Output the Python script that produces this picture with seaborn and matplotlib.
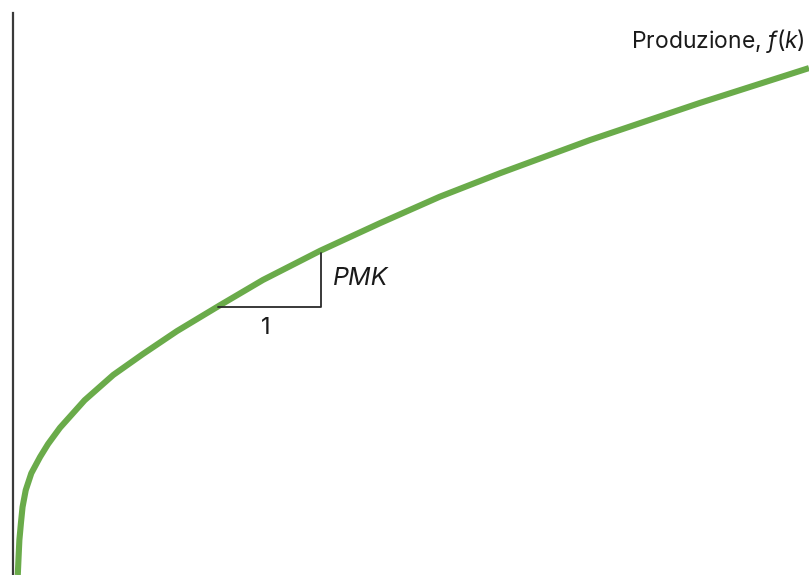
import matplotlib
matplotlib.use("Agg")
import matplotlib.pyplot as plt
import seaborn as sns
import pandas as pd

# capitale per lavoratore (k) e produzione f(k)
k_vals = [0.06, 0.07, 0.08, 0.10, 0.12, 0.16, 0.23, 0.34, 0.44, 0.59, 0.90,
          1.26, 1.63, 2.06, 2.60, 3.14, 3.86, 4.61, 5.36, 6.12, 7.25, 8.63, 10.0]
f_vals = [0.00, 0.32, 0.62, 0.93, 1.21, 1.51, 1.81, 2.10, 2.33, 2.62, 3.11,
          3.56, 3.93, 4.34, 4.80, 5.25, 5.77, 6.26, 6.73, 7.15, 7.74, 8.40, 9.02]

# triangolo della pendenza (PMK)
tri_k = [2.58, 3.87, 3.87]
tri_f = [4.77, 4.77, 5.73]

curve_label = "Produzione, $f(k)$"
slope_label = "PMK"
run_label = "1"

sns.set_style("white")
plt.rcParams['font.family'] = ['Inter', 'DejaVu Sans']
plt.rcParams['mathtext.fontset'] = 'custom'
plt.rcParams['mathtext.rm'] = 'Inter'
plt.rcParams['mathtext.it'] = 'Inter:italic'

df = pd.DataFrame({"k": k_vals, "f": f_vals})

fig = plt.figure(figsize=(8.09, 5.75), dpi=100)
ax = fig.add_axes([13 / 809, 0, 796 / 809, 562 / 575])

sns.lineplot(data=df, x="k", y="f", ax=ax, color="#6aab4a", linewidth=4.4,
             solid_capstyle="butt", solid_joinstyle="round", clip_on=True)
ax.plot(tri_k, tri_f, color="#2a2a2a", linewidth=1.3)

ax.text(9.95, 9.50, curve_label, ha="right", va="center", fontsize=16.5, color="#1a1a1a")
ax.text(4.02, 5.28, slope_label, ha="left", va="center", fontsize=18,
        style="italic", color="#1a1a1a")
ax.text(3.17, 4.40, run_label, ha="center", va="center", fontsize=17, color="#1a1a1a")

ax.set_xlim(0, 10)
ax.set_ylim(0, 10)
ax.set_xticks([])
ax.set_yticks([])
ax.set_xlabel("")
ax.set_ylabel("")
for side in ["top", "right", "bottom"]:
    ax.spines[side].set_visible(False)
ax.spines["left"].set_color("#3a3a3a")
ax.spines["left"].set_linewidth(1.6)

fig.savefig("out.png", dpi=100, facecolor="white")
